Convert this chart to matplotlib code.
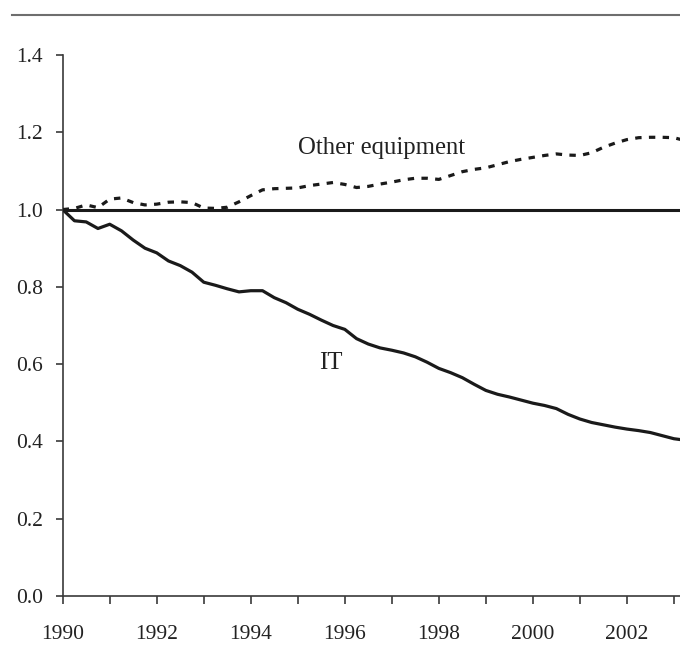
import matplotlib
matplotlib.use("Agg")
import matplotlib.pyplot as plt
from matplotlib.lines import Line2D
import numpy as np

# quarterly index, 1990 = 1.0
quarters = np.arange(1990, 2003.26, 0.25)

it_index = [
    1.000, 0.971, 0.968, 0.951, 0.962, 0.945, 0.921, 0.900,
    0.888, 0.867, 0.855, 0.838, 0.812, 0.804, 0.795, 0.787,
    0.790, 0.790, 0.772, 0.759, 0.742, 0.729, 0.714, 0.700,
    0.690, 0.666, 0.652, 0.642, 0.636, 0.629, 0.619, 0.605,
    0.589, 0.578, 0.565, 0.548, 0.532, 0.522, 0.515, 0.507,
    0.499, 0.493, 0.485, 0.470, 0.458, 0.449, 0.443, 0.437,
    0.432, 0.428, 0.423, 0.415, 0.407, 0.403,
]

other_index = [
    1.000, 1.003, 1.012, 1.005, 1.027, 1.030, 1.018, 1.012,
    1.014, 1.019, 1.020, 1.018, 1.004, 1.003, 1.006, 1.020,
    1.036, 1.051, 1.054, 1.055, 1.056, 1.062, 1.066, 1.070,
    1.065, 1.057, 1.060, 1.066, 1.071, 1.077, 1.081, 1.081,
    1.078, 1.088, 1.098, 1.104, 1.108, 1.116, 1.124, 1.130,
    1.135, 1.140, 1.144, 1.141, 1.140, 1.147, 1.161, 1.172,
    1.181, 1.186, 1.187, 1.187, 1.186, 1.178,
]

year_ticks = list(range(1990, 2004, 2))
minor_years = list(range(1991, 2004, 2))
y_ticks = [0.0, 0.2, 0.4, 0.6, 0.8, 1.0, 1.2, 1.4]

plt.rcParams['font.family'] = ['Liberation Serif', 'DejaVu Serif']
plt.rcParams['font.size'] = 15.5

fig = plt.figure(figsize=(6.8, 6.64), dpi=100)
ax = fig.add_axes([0.0922, 0.1024, 0.9078, 0.8148])

line_col = '#1a1a1a'
axis_col = '#3a3a3a'

ax.axhline(1.0, color=line_col, lw=2.2, zorder=2)
ax.plot(quarters, it_index, color=line_col, lw=2.3, solid_joinstyle='round', zorder=3)
ax.plot(quarters, other_index, color=line_col, lw=2.3, dashes=(2.0, 2.3), zorder=3)

ax.text(1995.0, 1.16, 'Other equipment', ha='left', va='center', color='#222222', fontsize=17.8)
ax.text(1995.45, 0.603, 'IT', ha='left', va='center', color='#222222', fontsize=17.8)

ax.set_xlim(1990, 2003.13)
ax.set_ylim(0, 1.4)
ax.set_xticks(year_ticks)
ax.set_xticks(minor_years, minor=True)
ax.set_yticks(y_ticks)
ax.set_yticklabels([f"{v:.1f}" for v in y_ticks])

for s in ['top', 'right']:
    ax.spines[s].set_visible(False)
for s in ['left', 'bottom']:
    ax.spines[s].set_color(axis_col)
    ax.spines[s].set_linewidth(1.2)

ax.tick_params(axis='x', which='both', direction='out', length=6, width=1.2,
               color=axis_col, pad=15, labelcolor='#222222')
ax.tick_params(axis='y', direction='out', length=5, width=1.2,
               color=axis_col, pad=9, labelcolor='#222222')

# top rule
fig.add_artist(Line2D([12 / 680, 1.0], [1 - 15 / 664, 1 - 15 / 664],
                      transform=fig.transFigure, color='#6e6e6e', lw=1.5))

fig.savefig('out.png', dpi=100)
